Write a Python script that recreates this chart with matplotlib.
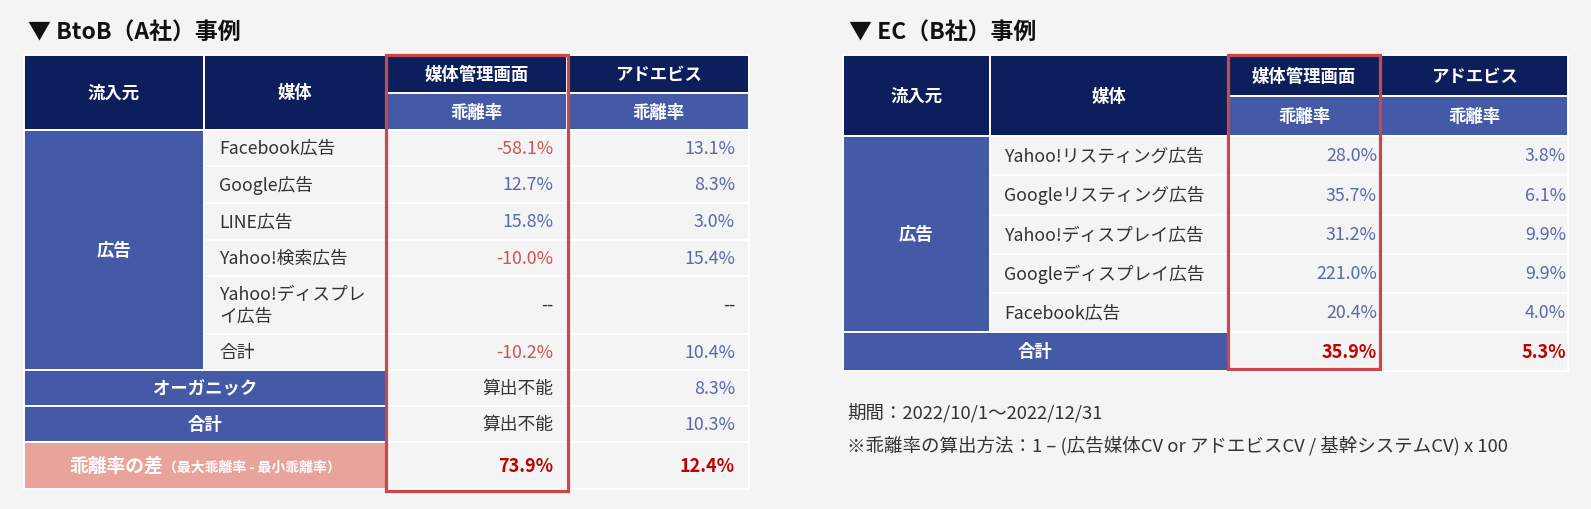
import matplotlib
matplotlib.use("Agg")
import matplotlib.pyplot as plt
from matplotlib.patches import Rectangle

plt.rcParams['font.family'] = ['Noto Sans CJK JP', 'DejaVu Sans']

# colours
BG = '#f4f4f4'
NAVY = '#0c1f5c'
BLUE = '#445aa6'
PINK = '#e8a39b'
VAL_BLUE = '#5a69ab'
VAL_RED = '#d05353'
BOLD_RED = '#c00000'
TXT = '#333333'
BOX_RED = '#c8484b'

# ---------------- data : BtoB (A社)
a_title = '▼ BtoB（A社）事例'
a_media = ['Facebook広告', 'Google広告', 'LINE広告', 'Yahoo!検索広告',
           'Yahoo!ディスプレ\nイ広告', '合計']
a_kanri = [-58.1, 12.7, 15.8, -10.0, None, -10.2]
a_adebis = [13.1, 8.3, 3.0, 15.4, None, 10.4]
a_extra = ['オーガニック', '合計']
a_extra_kanri = ['算出不能', '算出不能']
a_extra_adebis = [8.3, 10.3]
a_diff = [73.9, 12.4]

# ---------------- data : EC (B社)
b_title = '▼ EC（B社）事例'
b_media = ['Yahoo!リスティング広告', 'Googleリスティング広告', 'Yahoo!ディスプレイ広告',
           'Googleディスプレイ広告', 'Facebook広告']
b_kanri = [28.0, 35.7, 31.2, 221.0, 20.4]
b_adebis = [3.8, 6.1, 9.9, 9.9, 4.0]
b_total = [35.9, 5.3]

note1 = '期間：2022/10/1～2022/12/31'
note2 = '※乖離率の算出方法：1 – (広告媒体CV or アドエビスCV / 基幹システムCV) x 100'

# ---------------- layout (pixels)
a_x = [24, 204, 386, 567, 749]
a_head = [56, 94, 131]
a_rows = [131, 167, 204, 241, 277, 335, 371]
a_extra_rows = [371, 407, 443]
a_diff_row = [443, 490]

b_x = [843, 990, 1228, 1380, 1568]
b_head = [56, 97, 137]
b_rows = [137, 176, 216, 255, 294, 333]
b_total_row = [333, 372]

FS = 12.8      # body text
FH = 12.5      # header text

fig = plt.figure(figsize=(15.91, 5.10), dpi=100)
fig.patch.set_facecolor(BG)
ax = fig.add_axes([0, 0, 1, 1])
ax.set_xlim(0, 1591)
ax.set_ylim(510, 0)
ax.axis('off')


def cell(x0, x1, y0, y1, fc):
    ax.add_patch(Rectangle((x0, y0), x1 - x0, y1 - y0, facecolor=fc,
                           edgecolor='white', lw=1.4, zorder=1))


def fmt(v):
    return '--' if v is None else f'{v:.1f}%'


def vcol(v):
    if v is None:
        return TXT
    return VAL_RED if v < 0 else VAL_BLUE


def header(xs, hy):
    cell(xs[0], xs[1], hy[0], hy[2], NAVY)
    cell(xs[1], xs[2], hy[0], hy[2], NAVY)
    cell(xs[2], xs[3], hy[0], hy[1], NAVY)
    cell(xs[3], xs[4], hy[0], hy[1], NAVY)
    cell(xs[2], xs[3], hy[1], hy[2], BLUE)
    cell(xs[3], xs[4], hy[1], hy[2], BLUE)
    ym = (hy[0] + hy[2]) / 2
    for i, s in enumerate(['流入元', '媒体']):
        ax.text((xs[i] + xs[i + 1]) / 2, ym, s, color='white', fontsize=FH,
                fontweight='bold', ha='center', va='center', zorder=3)
    for i, s in enumerate(['媒体管理画面', 'アドエビス']):
        xc = (xs[2 + i] + xs[3 + i]) / 2
        ax.text(xc, (hy[0] + hy[1]) / 2, s, color='white', fontsize=FH,
                fontweight='bold', ha='center', va='center', zorder=3)
        ax.text(xc, (hy[1] + hy[2]) / 2, '乖離率', color='white', fontsize=FH,
                fontweight='bold', ha='center', va='center', zorder=3)


# ================= left table
ax.text(a_x[0] + 4, 33, a_title, fontsize=16.5, fontweight='bold', color='#111111',
        ha='left', va='center')
header(a_x, a_head)

cell(a_x[0], a_x[1], a_rows[0], a_rows[-1], BLUE)
ax.text((a_x[0] + a_x[1]) / 2, (a_rows[0] + a_rows[-1]) / 2, '広告', color='white',
        fontsize=FH, fontweight='bold', ha='center', va='center', zorder=3)
for i, name in enumerate(a_media):
    y0, y1 = a_rows[i], a_rows[i + 1]
    ym = (y0 + y1) / 2
    for c in range(1, 4):
        cell(a_x[c], a_x[c + 1], y0, y1, BG)
    ax.text(a_x[1] + 15, ym, name, color=TXT, fontsize=FS, ha='left', va='center',
            linespacing=1.25, zorder=3)
    ax.text(a_x[3] - 14, ym, fmt(a_kanri[i]), color=vcol(a_kanri[i]), fontsize=FS,
            ha='right', va='center', zorder=3)
    ax.text(a_x[4] - 14, ym, fmt(a_adebis[i]), color=vcol(a_adebis[i]), fontsize=FS,
            ha='right', va='center', zorder=3)

for i, name in enumerate(a_extra):
    y0, y1 = a_extra_rows[i], a_extra_rows[i + 1]
    ym = (y0 + y1) / 2
    cell(a_x[0], a_x[2], y0, y1, BLUE)
    cell(a_x[2], a_x[3], y0, y1, BG)
    cell(a_x[3], a_x[4], y0, y1, BG)
    ax.text((a_x[0] + a_x[2]) / 2, ym, name, color='white', fontsize=FH,
            fontweight='bold', ha='center', va='center', zorder=3)
    ax.text(a_x[3] - 14, ym, a_extra_kanri[i], color=TXT, fontsize=FS,
            ha='right', va='center', zorder=3)
    ax.text(a_x[4] - 14, ym, fmt(a_extra_adebis[i]), color=VAL_BLUE, fontsize=FS,
            ha='right', va='center', zorder=3)

y0, y1 = a_diff_row
ym = (y0 + y1) / 2
cell(a_x[0], a_x[2], y0, y1, PINK)
cell(a_x[2], a_x[3], y0, y1, BG)
cell(a_x[3], a_x[4], y0, y1, BG)
# two-size label, centred together
t1 = ax.text(0, ym, '乖離率の差', color='white', fontsize=13.5, fontweight='bold',
             ha='left', va='center', zorder=3)
t2 = ax.text(0, ym + 1, '（最大乖離率 - 最小乖離率）', color='white', fontsize=10,
             fontweight='bold', ha='left', va='center', zorder=3)
r = fig.canvas.get_renderer()
w1 = t1.get_window_extent(r).width
w2 = t2.get_window_extent(r).width
xs0 = (a_x[0] + a_x[2]) / 2 - (w1 + w2) / 2
t1.set_x(xs0)
t2.set_x(xs0 + w1)
ax.text(a_x[3] - 14, ym, fmt(a_diff[0]), color=BOLD_RED, fontsize=13,
        fontweight='bold', ha='right', va='center', zorder=3)
ax.text(a_x[4] - 14, ym, fmt(a_diff[1]), color=BOLD_RED, fontsize=13,
        fontweight='bold', ha='right', va='center', zorder=3)

ax.add_patch(Rectangle((a_x[2], a_head[0]), 568 - a_x[2], 492 - a_head[0],
                       fill=False, edgecolor=BOX_RED, lw=2.3, zorder=5))

# ================= right table
ax.text(b_x[0] + 6, 33, b_title, fontsize=16.5, fontweight='bold', color='#111111',
        ha='left', va='center')
header(b_x, b_head)

cell(b_x[0], b_x[1], b_rows[0], b_rows[-1], BLUE)
ax.text((b_x[0] + b_x[1]) / 2, (b_rows[0] + b_rows[-1]) / 2, '広告', color='white',
        fontsize=FH, fontweight='bold', ha='center', va='center', zorder=3)
for i, name in enumerate(b_media):
    y0, y1 = b_rows[i], b_rows[i + 1]
    ym = (y0 + y1) / 2
    for c in range(1, 4):
        cell(b_x[c], b_x[c + 1], y0, y1, BG)
    ax.text(b_x[1] + 14, ym, name, color=TXT, fontsize=FS, ha='left', va='center',
            zorder=3)
    ax.text(b_x[3] - 3, ym, fmt(b_kanri[i]), color=vcol(b_kanri[i]), fontsize=FS,
            ha='right', va='center', zorder=3)
    ax.text(b_x[4] - 2, ym, fmt(b_adebis[i]), color=vcol(b_adebis[i]), fontsize=FS,
            ha='right', va='center', zorder=3)

y0, y1 = b_total_row
ym = (y0 + y1) / 2
cell(b_x[0], b_x[2], y0, y1, BLUE)
cell(b_x[2], b_x[3], y0, y1, BG)
cell(b_x[3], b_x[4], y0, y1, BG)
ax.text((b_x[0] + b_x[2]) / 2, ym, '合計', color='white', fontsize=FH,
        fontweight='bold', ha='center', va='center', zorder=3)
ax.text(b_x[3] - 3, ym, fmt(b_total[0]), color=BOLD_RED, fontsize=13,
        fontweight='bold', ha='right', va='center', zorder=3)
ax.text(b_x[4] - 2, ym, fmt(b_total[1]), color=BOLD_RED, fontsize=13,
        fontweight='bold', ha='right', va='center', zorder=3)

ax.add_patch(Rectangle((b_x[2], b_head[0]), b_x[3] - b_x[2], 370 - b_head[0],
                       fill=False, edgecolor=BOX_RED, lw=2.3, zorder=5))

ax.text(b_x[0] + 4, 413, note1, color=TXT, fontsize=13.3, ha='left', va='center')
ax.text(b_x[0] + 4, 446, note2, color=TXT, fontsize=13.3, ha='left', va='center')

fig.savefig('out.png', dpi=100, facecolor=BG)
